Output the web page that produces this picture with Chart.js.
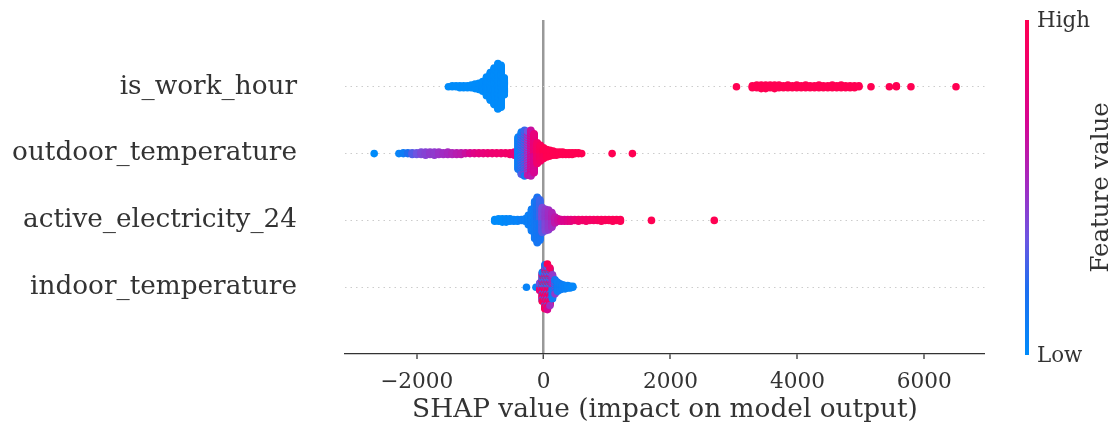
<!DOCTYPE html>
<html>
<head>
<meta charset="utf-8">
<script src="https://cdn.jsdelivr.net/npm/chart.js@4.4.1/dist/chart.umd.min.js"></script>
<style>
  html, body { margin: 0; padding: 0; background: #fff; }
</style>
</head>
<body>
<canvas id="shap" width="1116" height="426"></canvas>
<script>
// feature rows, bottom to top (y = 0 .. 3)
const features = ['indoor_temperature', 'active_electricity_24', 'outdoor_temperature', 'is_work_hour'];
const xTicks = [-2000, 0, 2000, 4000, 6000];

// SHAP values binned: bin centre, number of samples, feature value (0 low .. 1 high)
const workX = [-1500, -1440, -1380, -1320, -1260, -1200, -1140, -1080, -1020, -960, -900, -840, -780, -720, -670, -620,
  3040, 3290, 3360, 3430, 3500, 3570, 3640, 3710, 3780, 3850, 3920, 3990, 4060, 4130, 4200, 4270, 4340, 4410,
  4480, 4550, 4620, 4690, 4760, 4830, 4900, 4970, 5160, 5450, 5560, 5790, 6500];
const workN = [1, 2, 2, 3, 3, 3, 4, 6, 8, 12, 22, 32, 42, 52, 48, 20,
  1, 3, 4, 5, 5, 4, 5, 4, 3, 4, 3, 4, 3, 4, 3, 3, 4, 3,
  3, 4, 3, 4, 3, 3, 3, 2, 1, 1, 2, 1, 1];
const workF = [0, 0, 0, 0, 0, 0, 0, 0, 0, 0, 0, 0, 0, 0, 0, 0,
  1, 1, 1, 1, 1, 1, 1, 1, 1, 1, 1, 1, 1, 1, 1, 1, 1, 1,
  1, 1, 1, 1, 1, 1, 1, 1, 1, 1, 1, 1, 1];

const outX = [-2670, -2280, -2210, -2140, -2070, -2000, -1930, -1860, -1790, -1720, -1650, -1580, -1510, -1440,
  -1370, -1300, -1230, -1160, -1090, -1020, -950, -880, -810, -740, -670, -600, -530, -460,
  -400, -350, -300, -250, -200, -150, -100, -50, 0, 50, 100, 150, 200, 250, 300, 350, 400, 450, 500, 550, 600, 1080, 1400];
const outN = [1, 1, 2, 2, 3, 3, 4, 5, 4, 5, 4, 3, 4, 3,
  3, 3, 2, 2, 2, 2, 2, 2, 2, 2, 2, 2, 3, 5,
  40, 52, 56, 54, 56, 48, 26, 20, 14, 10, 8, 6, 5, 4, 4, 3, 3, 3, 2, 2, 1, 1, 1];
const outF = [0, 0.05, 0.1, 0.2, 0.3, 0.35, 0.4, 0.42, 0.45, 0.45, 0.48, 0.5, 0.52, 0.55,
  0.58, 0.6, 0.65, 0.7, 0.75, 0.78, 0.8, 0.82, 0.84, 0.85, 0.86, 0.87, 0.88, 0.8,
  [0.05, 0.1, 0.15], [0.08, 0.15, 0.3], [0.12, 0.25, 0.45], [0.5, 0.6, 0.35], [0.6, 0.65, 0.7], [0.7, 0.8],
  [0.85, 0.9], [0.9, 0.95], [0.95, 1], 1, 1, 1, 1, 1, 1, 1, 1, 1, 1, 1, 1, 1, 1];

const actX = [-770, -710, -650, -590, -530, -470, -410, -350, -290, -240, -190, -140, -100, -60, -20, 30, 80, 130,
  180, 230, 280, 330, 380, 430, 490, 550, 610, 670, 730, 790, 850, 910, 970, 1030, 1090, 1150, 1210, 1700, 2690];
const actN = [3, 4, 5, 5, 4, 3, 3, 2, 4, 12, 26, 44, 54, 48, 30, 26, 24, 18,
  8, 4, 3, 3, 3, 3, 2, 3, 2, 3, 2, 2, 2, 3, 2, 2, 3, 2, 3, 1, 1];
const actF = [0, 0, 0, 0.02, 0.03, 0.05, 0.05, 0.08, 0.08, 0.08, 0.1, 0.12, [0.14, 0.18], [0.15, 0.25], [0.3, 0.4],
  [0.4, 0.45], [0.45, 0.5], [0.5, 0.55], 0.6, 0.65, 0.7, 0.72, 0.75, 0.78, 0.82, 0.85, 0.87, 0.88, 0.9, 0.9,
  0.92, 0.94, 0.95, 0.96, 0.97, 0.98, 0.98, 1, 1];

const indMix = [1, 0.1, 0.5, 0.9, 0.25, 0.6, 1, 0.05, 0.8, 0.4, 0.95, 0.15, 0.7, 1];
const indX = [-270, -120, -60, -20, 20, 60, 100, 140, 180, 220, 260, 300, 340, 380, 420, 460];
const indN = [1, 1, 10, 36, 54, 56, 46, 30, 18, 12, 8, 6, 5, 4, 3, 2];
const indF = [0.05, 0.05, indMix, indMix, indMix, indMix, indMix, [0.1, 0.45, 0.15, 0.6], [0.1, 0.45, 0.15],
  0.1, 0.1, 0.08, 0.06, 0.05, 0.05, 0.03];

const binned = [
  [indX, indN, indF],
  [actX, actN, actF],
  [outX, outN, outF],
  [workX, workN, workF]
];

// SHAP red_blue colour map
const cmapStops = [
  [0, [0, 139, 250]], [0.2, [30, 110, 240]], [0.35, [110, 85, 225]], [0.5, [160, 45, 195]],
  [0.7, [215, 5, 145]], [0.85, [240, 0, 110]], [1, [255, 0, 82]]
];
function cmap(t) {
  for (let i = 1; i < cmapStops.length; i++) {
    const [t1, c1] = cmapStops[i];
    const [t0, c0] = cmapStops[i - 1];
    if (t <= t1) {
      const k = (t - t0) / (t1 - t0);
      const c = c0.map((v, j) => Math.round(v + (c1[j] - v) * k));
      return `rgb(${c[0]},${c[1]},${c[2]})`;
    }
  }
  return 'rgb(255,0,82)';
}

// beeswarm stacking like shap: alternate layers above/below the row
function swarm(row, xs, ns, fs) {
  let maxLayer = 0;
  ns.forEach(n => { maxLayer = Math.max(maxLayer, Math.ceil((n - 1) / 2)); });
  const scale = 0.9 * 0.4 / (maxLayer + 1);
  const pts = [], cols = [];
  xs.forEach((x, i) => {
    for (let k = 0; k < ns[i]; k++) {
      const layer = Math.ceil(k / 2) * (k % 2 ? 1 : -1);
      pts.push({ x: x, y: row + layer * scale });
      const f = Array.isArray(fs[i]) ? fs[i][k % fs[i].length] : fs[i];
      cols.push(cmap(f));
    }
  });
  return { pts, cols };
}

const FAM = "'DejaVu Serif', serif";
const meas = document.createElement('canvas').getContext('2d');
function fit(text, width) {
  meas.font = '100px ' + FAM;
  return 100 * width / meas.measureText(text).width;
}
const labelSize = fit('outdoor_temperature', 285);
const tickSize = fit('6000', 55);
const titleSize = fit('SHAP value (impact on model output)', 506);
const cbSize = fit('High', 53);
const cbTitleSize = fit('Feature value', 170);

const datasets = binned.map((b, row) => {
  const s = swarm(row, b[0], b[1], b[2]);
  return {
    label: features[row],
    data: s.pts,
    pointBackgroundColor: s.cols,
    pointRadius: 3.8,
    pointBorderWidth: 0,
    pointHoverRadius: 3.8
  };
});

const colorbar = {
  id: 'colorbar',
  afterDraw(chart) {
    const { ctx, chartArea } = chart;
    const top = chartArea.top, bottom = chartArea.bottom + 1;
    const x = chartArea.right + 40;
    const g = ctx.createLinearGradient(0, bottom, 0, top);
    cmapStops.forEach(s => g.addColorStop(s[0], cmap(s[0])));
    ctx.save();
    ctx.fillStyle = g;
    ctx.fillRect(x, top, 4, bottom - top);
    ctx.fillStyle = '#333';
    ctx.textAlign = 'left';
    ctx.textBaseline = 'middle';
    ctx.font = cbSize.toFixed(1) + 'px ' + FAM;
    ctx.fillText('High', x + 12, top + 1);
    ctx.fillText('Low', x + 12, bottom + 1);
    ctx.translate(x + 77, (top + bottom) / 2);
    ctx.rotate(-Math.PI / 2);
    ctx.textAlign = 'center';
    ctx.font = cbTitleSize.toFixed(1) + 'px ' + FAM;
    ctx.fillText('Feature value', 0, 0);
    ctx.restore();
  }
};

new Chart(document.getElementById('shap'), {
  type: 'scatter',
  data: { datasets: datasets },
  plugins: [colorbar],
  options: {
    responsive: false,
    animation: false,
    layout: { padding: { top: 20, right: 131, left: 0, bottom: 0 } },
    plugins: { legend: { display: false }, tooltip: { enabled: false } },
    scales: {
      x: {
        type: 'linear',
        min: -3130,
        max: 6957,
        z: 1,
        afterBuildTicks: s => { s.ticks = xTicks.map(v => ({ value: v })); },
        afterFit: s => { s.height = 72; s.paddingLeft = 0; s.paddingRight = 0; },
        ticks: {
          callback: v => v < 0 ? '\u2212' + Math.abs(v) : String(v),
          font: { family: FAM, size: tickSize },
          color: '#333',
          padding: 10,
          maxRotation: 0
        },
        grid: {
          color: c => (c.tick && c.tick.value === 0) ? '#999999' : 'rgba(0,0,0,0)',
          lineWidth: c => (c.tick && c.tick.value === 0) ? 2.5 : 0,
          tickColor: '#333',
          tickWidth: 1.3,
          tickLength: 5
        },
        border: { display: true, color: '#333', width: 1.3 },
        title: {
          display: true,
          text: 'SHAP value (impact on model output)',
          color: '#333',
          font: { family: FAM, size: titleSize },
          padding: { top: 0, bottom: 0 }
        }
      },
      y: {
        type: 'linear',
        min: -1,
        max: 4,
        afterBuildTicks: s => { s.ticks = features.map((f, i) => ({ value: i })); },
        afterFit: s => { s.width = 345; s.paddingTop = 0; s.paddingBottom = 0; },
        ticks: {
          callback: v => features[v],
          font: { family: FAM, size: labelSize },
          color: '#333',
          padding: 48
        },
        grid: { color: '#cccccc', lineWidth: 1, drawTicks: false },
        border: { display: false, dash: [1.5, 4] }
      }
    }
  }
});
</script>
</body>
</html>
